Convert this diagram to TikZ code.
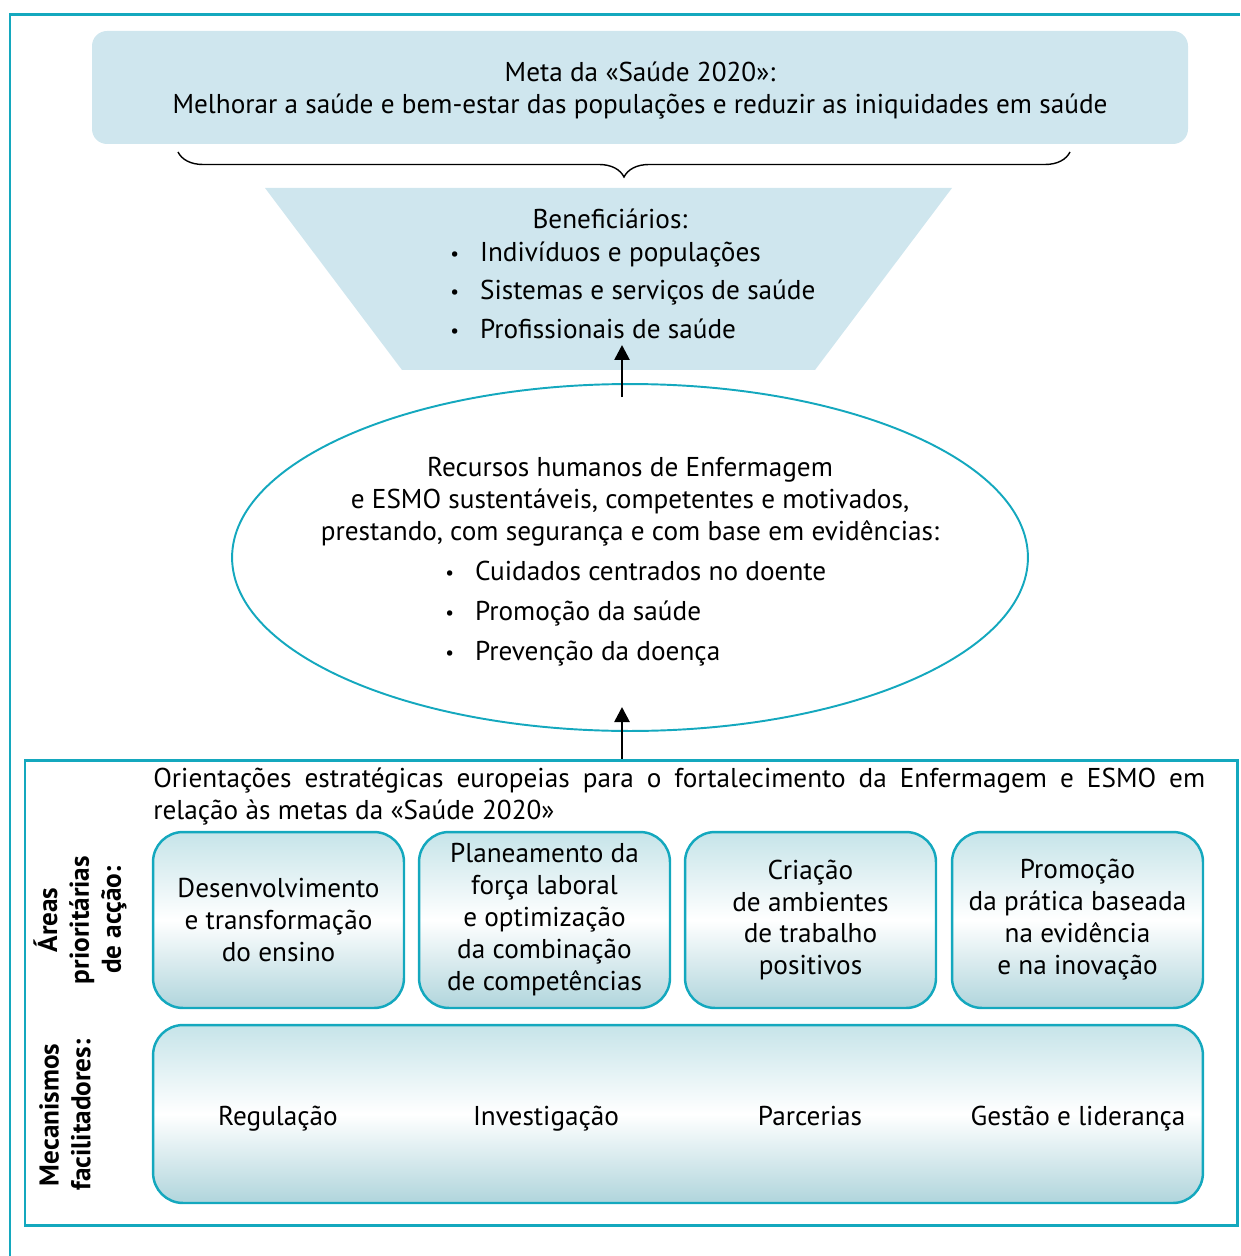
\documentclass[tikz,border=0pt]{standalone}
\usepackage{fontspec}
\setmainfont{PT Sans}
\usetikzlibrary{shapes.geometric, arrows.meta, decorations.pathreplacing}
\definecolor{saudeteal}{RGB}{20,168,190}
\definecolor{saudefill}{RGB}{207,230,238}
\definecolor{saudetop}{RGB}{198,228,233}
\definecolor{saudebot}{RGB}{176,213,220}
\newcommand{\smallbullet}{\raisebox{0.04em}{\fontsize{11}{11}\selectfont\textbullet}}

\begin{document}
\begin{tikzpicture}[x=0.02cm, y=-0.02cm, font=\fontsize{15.5}{18.2}\selectfont,
	areabox/.style={draw=saudeteal, line width=1.4pt, rounded corners=0.6cm, top color=saudetop, bottom color=saudebot, middle color=white, minimum width=5.02cm, minimum height=3.52cm, align=center, inner sep=0pt},
	sidelabel/.style={rotate=90, font=\fontsize{15.5}{18.2}\selectfont\bfseries, align=center},
	bulletlist/.style={anchor=west, align=left, inner sep=0pt},
	uparrow/.style={->, >={Triangle[length=0.3cm, width=0.3cm]}, line width=1.5pt}]
				\useasboundingbox (0,0) rectangle (1240,1256);
				\draw[saudeteal, line width=1.7pt] (1240,15) -- (10,15) -- (10,1256);
				\fill[saudefill, rounded corners=0.3cm] (92,31) rectangle (1188,144);
				\node[align=center] (meta)at(640,91) {Meta da «Saúde 2020»:\\Melhorar a saúde e bem-estar das populações e reduzir as iniquidades em saúde};
				\draw[decorate, decoration={brace, mirror, amplitude=0.5cm}, line width=0.8pt] (178,152) -- (1070,152);
				\fill[saudefill] (265,188) -- (952,188) -- (815,370) -- (402,370) -- cycle;
				\node (benef)at(610,219) {Beneficiários:};
				\node[bulletlist] (beneflist)at(450,290) {\smallbullet\hspace{0.42cm}Indivíduos e populações\\[0.13cm]\smallbullet\hspace{0.42cm}Sistemas e serviços de saúde\\[0.13cm]\smallbullet\hspace{0.42cm}Profissionais de saúde};
				\node[draw=saudeteal, ellipse, line width=1.1pt, fill=white, minimum width=15.92cm, minimum height=6.94cm] (ellipse)at(630,557.5) {};
				\node[align=center] (recursos)at(630,502) {Recursos humanos de Enfermagem\\e ESMO sustentáveis, competentes e motivados,\\prestando, com segurança e com base em evidências:};
				\node[bulletlist] (recursoslist)at(445,614) {\smallbullet\hspace{0.42cm}Cuidados centrados no doente\\[0.16cm]\smallbullet\hspace{0.42cm}Promoção da saúde\\[0.16cm]\smallbullet\hspace{0.42cm}Prevenção da doença};
				\coordinate (benefend)at(622,345);
				\coordinate (ellipsestart)at(622,397);
				\coordinate (ellipseend)at(622,707);
				\coordinate (orientstart)at(622,760);
				\draw[uparrow] (ellipsestart) -- (benefend);
				\draw[uparrow] (orientstart) -- (ellipseend);
				\draw[saudeteal, line width=1.7pt] (25,760) rectangle (1237,1225);
				\node[anchor=north west, text width=21.04cm, align=justify, inner sep=0pt] (orient)at(153,768) {Orientações estratégicas europeias para o fortalecimento da Enfermagem e ESMO em\linebreak relação às metas da «Saúde 2020»};
				\node[sidelabel] (areas)at(80,920) {Áreas\\prioritárias\\de acção:};
				\node[sidelabel] (mecanismos)at(65,1115) {Mecanismos\\facilitadores:};
				\node[areabox] (ensino)at(278.5,920) {Desenvolvimento\\e transformação\\do ensino};
				\node[areabox] (laboral)at(544.5,920) {Planeamento da\\força laboral\\e optimização\\da combinação\\de competências};
				\node[areabox] (ambientes)at(810.5,920) {Criação\\de ambientes\\de trabalho\\positivos};
				\node[areabox] (pratica)at(1077.5,920) {Promoção\\da prática baseada\\na evidência\\e na inovação};
				\node[areabox, minimum width=21cm, minimum height=3.56cm] (mecbox)at(678,1114) {};
				\node[anchor=base] (regulacao)at(278,1125) {Regulação};
				\node[anchor=base] (investigacao)at(546,1125) {Investigação};
				\node[anchor=base] (parcerias)at(810,1125) {Parcerias};
				\node[anchor=base] (gestao)at(1078,1125) {Gestão e liderança};
			\end{tikzpicture}
\end{document}
